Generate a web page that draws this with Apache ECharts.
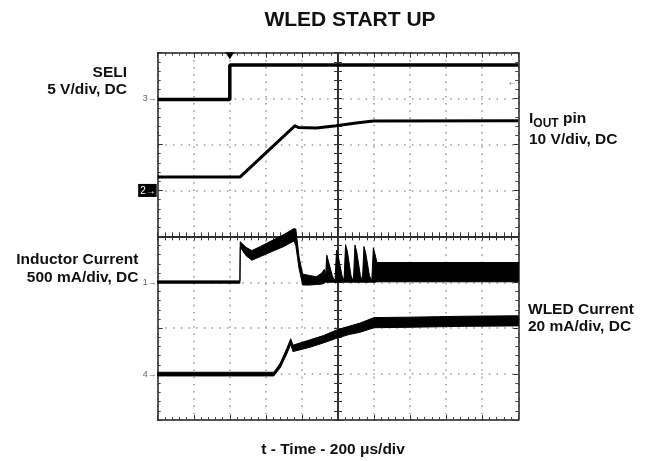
<!DOCTYPE html>
<html>
<head>
<meta charset="utf-8">
<script src="https://cdn.jsdelivr.net/npm/echarts@6/dist/echarts.min.js"></script>
<style>
  html, body { margin: 0; padding: 0; background: #fff; }
  #chart { width: 648px; height: 461px; }
</style>
</head>
<body>
<div id="chart"></div>
<script>
// time in divisions from screen centre (200 us/div), level in divisions from centre
const seliT = [-5, -3, -3, 5]
const seliV = [2.98, 2.98, 3.73, 3.73]

const ioutT = [-5, -2.72, -1.19, -1.1, -0.6, -0.05, 0.5, 0.98, 5]
const ioutV = [1.29, 1.29, 2.41, 2.37, 2.36, 2.41, 2.47, 2.51, 2.52]

// inductor current: switching band, lower / upper envelope
const indT  = [-5, -2.72, -2.71, -2.55, -2.39, -2.15, -1.8, -1.5, -1.22, -1.17, -1.08, -0.98, -0.8, -0.6, -0.45, -0.38,
               -0.35, -0.31, -0.26, -0.16, -0.11,
               -0.08, -0.04, 0.01, 0.11, 0.16,
               0.17, 0.21, 0.26, 0.36, 0.41,
               0.43, 0.47, 0.52, 0.62, 0.67,
               0.68, 0.72, 0.77, 0.87, 0.92,
               0.94, 0.98, 1.03, 1.08, 5]
const indLo = [-1.02, -1.02, -0.24, -0.42, -0.52, -0.44, -0.32, -0.22, -0.1, -0.2, -0.7, -1.06, -1.06, -1.05, -1.04, -1.02,
               -1.0, -1.0, -1.0, -1.0, -1.0,
               -1.0, -1.0, -1.0, -1.0, -1.0,
               -1.0, -1.0, -1.0, -1.0, -1.0,
               -1.0, -1.0, -1.0, -1.0, -1.0,
               -1.0, -1.0, -1.0, -1.0, -1.0,
               -1.0, -1.0, -1.0, -0.99, -0.99]
const indHi = [-0.97, -0.97, -0.12, -0.24, -0.31, -0.22, -0.08, 0.04, 0.17, 0.16, -0.45, -0.82, -0.85, -0.88, -0.8, -0.72,
               -0.92, -0.41, -0.56, -0.85, -0.95,
               -0.92, -0.30, -0.45, -0.85, -0.95,
               -0.92, -0.18, -0.33, -0.85, -0.95,
               -0.92, -0.19, -0.34, -0.85, -0.95,
               -0.92, -0.22, -0.37, -0.85, -0.95,
               -0.92, -0.25, -0.40, -0.57, -0.57]

// WLED current band
const wledT  = [-5, -1.78, -1.6, -1.42, -1.31, -1.25, -0.8, -0.4, -0.04, 0.3, 0.61, 1.0, 2.0, 3.5, 5]
const wledLo = [-3.04, -3.04, -2.86, -2.56, -2.35, -2.51, -2.42, -2.32, -2.22, -2.14, -2.09, -1.99, -1.98, -1.96, -1.95]
const wledHi = [-2.96, -2.96, -2.76, -2.44, -2.23, -2.37, -2.26, -2.16, -2.04, -1.96, -1.89, -1.77, -1.76, -1.74, -1.73]

// channel ground markers on the left edge
const chanLevels = [3, 1, -1, -3]
const chanNames = ['3', '2', '1', '4']

const trigT = -3
const trigLevel = [4.83, 3.36]

const FONT = 'Liberation Sans, Arial, sans-serif'
const LABEL = 'bold 15.5px ' + FONT
const chart = echarts.init(document.getElementById('chart'))

const zip = (a, b) => a.map((x, i) => [x, b[i]])

function bandSeries(name, t, lo, hi) {
  return {
    name: name,
    type: 'custom',
    data: t.map((x, i) => [x, lo[i], hi[i]]),
    encode: { x: 0, y: [1, 2] },
    renderItem: function (params, api) {
      if (params.dataIndex !== 0) return null
      const pts = []
      for (let i = 0; i < t.length; i++) pts.push(api.coord([t[i], hi[i]]))
      for (let i = t.length - 1; i >= 0; i--) pts.push(api.coord([t[i], lo[i]]))
      return {
        type: 'polygon',
        shape: { points: pts },
        style: { fill: '#000', stroke: '#000', lineWidth: 1 }
      }
    }
  }
}

const dotted = (gap) => ({ show: true, lineStyle: { color: '#999', width: 1.5, type: [1.5, gap] } })

function borderAxis(dim, pos, extra) {
  const isX = dim === 'x'
  return Object.assign({
    type: 'value',
    position: pos,
    min: isX ? -5 : -4,
    max: isX ? 5 : 4,
    interval: 1,
    axisLine: { show: true, onZero: false, lineStyle: { color: '#222', width: 1.5 } },
    axisTick: { show: true, inside: true, length: 5, lineStyle: { color: '#333', width: 1 } },
    minorTick: { show: true, splitNumber: 5, length: 3, lineStyle: { color: '#444', width: 1 } },
    axisLabel: { show: false },
    splitLine: { show: false }
  }, extra || {})
}

function centreAxis(dim, inside) {
  const isX = dim === 'x'
  return {
    type: 'value',
    position: isX ? 'bottom' : 'left',
    min: isX ? -5 : -4,
    max: isX ? 5 : 4,
    interval: 1,
    axisLine: { show: true, onZero: true, onZeroAxisIndex: 0, lineStyle: { color: '#222', width: 1.5 } },
    axisTick: { show: true, inside: inside, length: 4, lineStyle: { color: '#333', width: 1 } },
    minorTick: { show: true, splitNumber: 5, length: 4, lineStyle: { color: '#333', width: 1 } },
    axisLabel: { show: false },
    splitLine: { show: false }
  }
}

const option = {
  animation: false,
  backgroundColor: '#fff',
  grid: { left: 157.7, right: 129.7, top: 52.7, bottom: 41, show: false },
  xAxis: [
    borderAxis('x', 'bottom', { splitLine: dotted(5.7) }),
    borderAxis('x', 'top'),
    centreAxis('x', true),
    centreAxis('x', false)
  ],
  yAxis: [
    borderAxis('y', 'left', {
      splitLine: dotted(6.2),
      axisLabel: {
        show: true,
        margin: 1,
        formatter: function (v) {
          const i = chanLevels.indexOf(v)
          if (i < 0) return ''
          return chanNames[i] === '2' ? '{box|2→}' : '{n|' + chanNames[i] + '→}'
        },
        rich: {
          n: { color: '#666', fontSize: 9, fontFamily: FONT },
          box: { color: '#fff', backgroundColor: '#000', fontSize: 10, fontFamily: FONT, padding: [2, 1, 1, 2] }
        }
      }
    }),
    borderAxis('y', 'right'),
    centreAxis('y', true),
    centreAxis('y', false)
  ],
  series: [
    {
      name: 'SELI',
      type: 'line',
      data: zip(seliT, seliV),
      symbol: 'none',
      lineStyle: { color: '#000', width: 3.5 },
      markPoint: {
        silent: true,
        animation: false,
        data: [
          { coord: [trigT, 4], symbol: 'triangle', symbolRotate: 180, symbolSize: [9, 7], symbolOffset: [0, 3],
            itemStyle: { color: '#000' }, label: { show: false } },
          { coord: trigLevel, symbol: 'circle', symbolSize: 0,
            label: { show: true, formatter: '←', color: '#555', fontSize: 10, position: 'inside' } }
        ]
      }
    },
    {
      name: 'IOUT pin',
      type: 'line',
      data: zip(ioutT, ioutV),
      symbol: 'none',
      lineStyle: { color: '#000', width: 3 }
    },
    bandSeries('Inductor Current', indT, indLo, indHi),
    bandSeries('WLED Current', wledT, wledLo, wledHi)
  ],
  graphic: [
    { type: 'text', x: 350, y: 20, style: { text: 'WLED START UP', font: 'bold 21px ' + FONT, fill: '#111', align: 'center', verticalAlign: 'middle' } },
    { type: 'text', x: 127, y: 81, style: { text: 'SELI\n5 V/div, DC', font: LABEL, lineHeight: 17, fill: '#111', align: 'right', verticalAlign: 'middle' } },
    { type: 'text', x: 138.5, y: 269, style: { text: 'Inductor Current\n500 mA/div, DC', font: LABEL, lineHeight: 18, fill: '#111', align: 'right', verticalAlign: 'middle' } },
    { type: 'text', x: 529, y: 119, style: {
        text: '{b|I}{s|OUT}{b| pin}', align: 'left', verticalAlign: 'middle',
        rich: {
          b: { font: LABEL, fill: '#111', lineHeight: 22 },
          s: { font: 'bold 12px ' + FONT, fill: '#111', lineHeight: 12, verticalAlign: 'bottom' }
        }
      } },
    { type: 'text', x: 529, y: 140, style: { text: '10 V/div, DC', font: LABEL, fill: '#111', align: 'left', verticalAlign: 'middle' } },
    { type: 'text', x: 528, y: 318, style: { text: 'WLED Current\n20 mA/div, DC', font: LABEL, lineHeight: 17, fill: '#111', align: 'left', verticalAlign: 'middle' } },
    { type: 'text', x: 333, y: 450, style: { text: 't - Time - 200 μs/div', font: LABEL, fill: '#111', align: 'center', verticalAlign: 'middle' } }
  ]
}

chart.setOption(option)
</script>
</body>
</html>
